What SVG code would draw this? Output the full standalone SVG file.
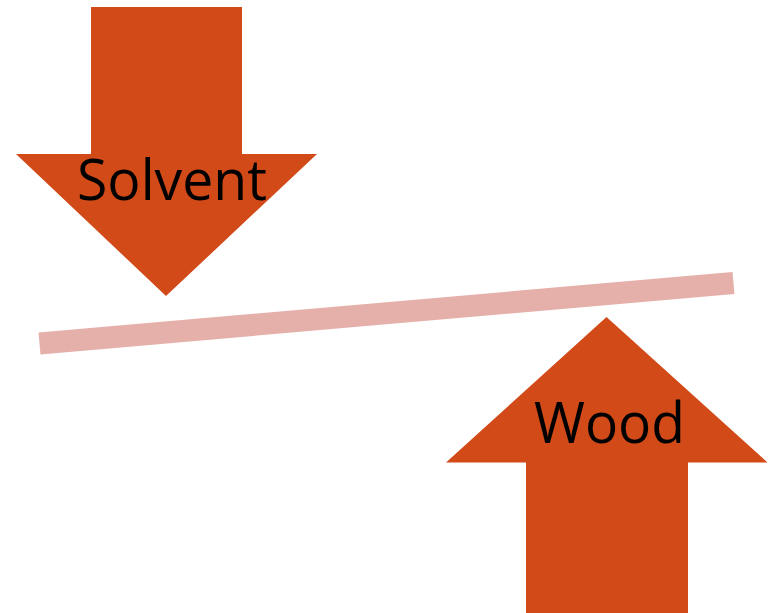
<svg xmlns="http://www.w3.org/2000/svg" width="769" height="613" viewBox="0 0 769 613">
<style>
.arrow{fill:#D14A17}
.lbl{font-family:"Open Sans","Liberation Sans",sans-serif;font-size:57px;fill:#000}
.bar{stroke:#E6B0AA;stroke-width:22;stroke-linecap:butt;fill:none}
</style>
<rect width="769" height="613" fill="#fff"/>
<g id="connectors">
<line class="bar" x1="39.5" y1="343.5" x2="733.5" y2="283"/>
</g>
<g id="solvent">
<polygon class="arrow" points="91,7 242,7 242,154 317,154 166,296 16,154 91,154"/>
<text class="lbl" x="77" y="200" textLength="190" lengthAdjust="spacingAndGlyphs">Solvent</text>
</g>
<g id="wood">
<polygon class="arrow" points="606.5,317 767.5,462.5 688,462.5 688,613 526,613 526,462.5 446,462.5"/>
<text class="lbl" x="534" y="443" textLength="151" lengthAdjust="spacingAndGlyphs">Wood</text>
</g>
</svg>
